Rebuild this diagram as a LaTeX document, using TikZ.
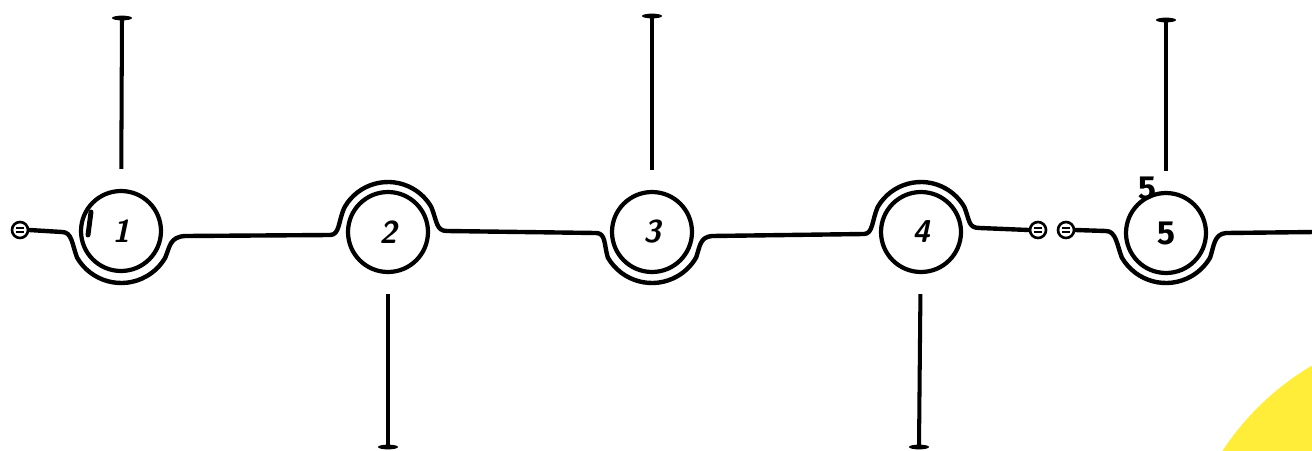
\documentclass[tikz,border=0pt]{standalone}
\usepackage{fontspec}
\newfontfamily\numfont{Fira Sans}
\definecolor{sun}{RGB}{255,237,58}

\tikzset{
  wire/.style={line width=2.5pt, line cap=round, line join=round},
  ring/.style={circle, draw, line width=2.4pt, minimum size=1.6cm, inner sep=0pt,
    font=\sffamily\bfseries\itshape\fontsize{18}{18}\selectfont},
  plug/.style={circle, draw, line width=1.5pt, minimum size=0.32cm, inner sep=0pt},
  pole/.style={line width=2.3pt, shorten >=0.4cm},
}

\begin{document}
\begin{tikzpicture}[x=0.02cm, y=-0.02cm]

\useasboundingbox (0,0) rectangle (1312,450);

% --- yellow blob, bottom right ---
\begin{scope}
  \clip (0,0) rectangle (1312,450);
  \fill[sun] (1450,600) circle (272);
\end{scope}

% --- stations ---
\node[ring] (c1) at (121,231) {1};
\node[ring] (c2) at (388,232) {2};
\node[ring] (c3) at (652,232) {3};
\node[ring] (c4) at (921,232) {4};
\node[ring, font=\numfont\bfseries\fontsize{19}{19}\selectfont] (c5) at (1166,233) {5};
\node[font=\numfont\bfseries\fontsize{19}{19}\selectfont] (lbl5) at (1147,188) {5};

% sketch stroke on circle 1
\draw[line width=2.8pt, line cap=round] (91,212) -- (88,235);

% --- plugs ---
\node[plug] (p1) at (20,230) {};
\node[plug] (p2) at (1038,230) {};
\node[plug] (p3) at (1066,230) {};
\foreach \p in {p1,p2,p3}{
  \draw[line width=1pt] ([shift={(-4,-2)}]\p.center) -- ++(8,0);
  \draw[line width=1pt] ([shift={(-4,2)}]\p.center) -- ++(8,0);
}

% --- main wire ---
\draw[wire] (p1.east) -- (62,232)
  .. controls (72,232) and (72,244) .. (77,257.5)
  arc[start angle=150, end angle=30, radius=51]
  .. controls (170,246) and (170,237) .. (185,236)
  -- (330,235)
  .. controls (340,235) and (338,221) .. (344.7,207)
  arc[start angle=210, end angle=330, radius=50]
  .. controls (437,221) and (436,231) .. (447,231)
  -- (596,233)
  .. controls (606,233) and (604,245) .. (607.8,257.5)
  arc[start angle=150, end angle=30, radius=51]
  .. controls (700,246) and (700,237) .. (712,236)
  -- (864,234)
  .. controls (873,234) and (872,220) .. (877.7,207)
  arc[start angle=210, end angle=330, radius=50]
  .. controls (970,221) and (968,228) .. (980,228)
  -- (p2.west);

\draw[wire] (p3.east) -- (1106,231)
  .. controls (1116,231) and (1117,245) .. (1121.8,257.5)
  arc[start angle=150, end angle=30, radius=51]
  .. controls (1214,246) and (1214,234) .. (1226,233)
  -- (1315,232);

% --- poles ---
\coordinate (t1) at (122,18);
\coordinate (t3) at (652,16);
\coordinate (t5) at (1166,20);
\coordinate (b2) at (388,447);
\coordinate (b4) at (919,447);

\draw[pole] (t1) -- (c1);
\draw[pole] (t3) -- (c3);
\draw[pole] (t5) -- (c5);
\draw[pole] (b2) -- (c2);
\draw[pole] (b4) -- (c4);

\foreach \t in {t1,t3,t5,b2,b4}
  \fill (\t) ellipse [x radius=10, y radius=2.4];

\end{tikzpicture}
\end{document}
